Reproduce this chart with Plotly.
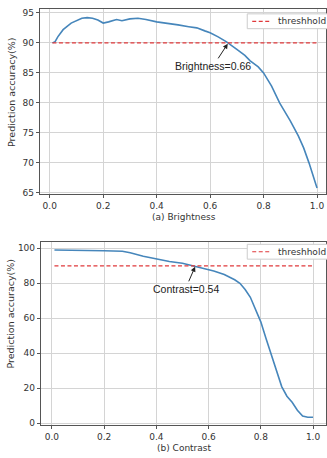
import plotly.graph_objects as go

# ---- data ----
bright_x = [0.01, 0.02, 0.03, 0.05, 0.08, 0.10, 0.12, 0.14, 0.16, 0.18, 0.20, 0.22, 0.25, 0.27,
            0.30, 0.33, 0.36, 0.40, 0.44, 0.48, 0.52, 0.55, 0.58, 0.60, 0.63, 0.66, 0.70, 0.73,
            0.75, 0.78, 0.80, 0.83, 0.86, 0.88, 0.90, 0.93, 0.95, 0.97, 1.00]
bright_y = [90.0, 90.2, 91.0, 92.2, 93.3, 93.7, 94.1, 94.2, 94.1, 93.8, 93.3, 93.5, 93.9, 93.7,
            94.0, 94.1, 93.9, 93.5, 93.3, 93.0, 92.7, 92.5, 92.0, 91.7, 91.0, 90.2, 88.9, 87.9,
            87.0, 86.0, 85.0, 82.8, 80.0, 78.5, 77.0, 74.5, 72.5, 70.0, 65.8]

contrast_x = [0.01, 0.10, 0.20, 0.27, 0.30, 0.35, 0.40, 0.45, 0.50, 0.54, 0.58, 0.62, 0.66,
              0.68, 0.70, 0.72, 0.74, 0.76, 0.78, 0.80, 0.82, 0.84, 0.86, 0.88, 0.90, 0.92,
              0.94, 0.96, 0.98, 1.00]
contrast_y = [99.0, 99.0, 98.6, 98.3, 97.5, 95.5, 94.0, 92.5, 91.5, 90.0, 88.5, 87.0, 85.0,
              83.5, 82.0, 80.0, 76.5, 72.0, 65.5, 58.0, 48.5, 39.0, 29.5, 21.0, 15.5, 12.0,
              7.5, 4.2, 3.5, 3.5]

threshold = 90
thr_x = [0.01, 1.00]
legend_label = "threshhold"
x_ticks = [0.0, 0.2, 0.4, 0.6, 0.8, 1.0]
x_tick_text = ["0.0", "0.2", "0.4", "0.6", "0.8", "1.0"]
top_y_ticks = [65, 70, 75, 80, 85, 90, 95]
bot_y_ticks = [0, 20, 40, 60, 80, 100]

W, H = 327, 458
BLUE = "#4686bb"
RED = "#e0393b"
FONT = "DejaVu Sans"
TXT = "#333"

fig = go.Figure()
fig.add_trace(go.Scatter(x=bright_x, y=bright_y, mode="lines", line=dict(color=BLUE, width=1.6),
                         showlegend=False, xaxis="x", yaxis="y"))
fig.add_trace(go.Scatter(x=thr_x, y=[threshold] * 2, mode="lines", name=legend_label,
                         line=dict(color=RED, width=1.2, dash="4px,2.5px"),
                         showlegend=False, xaxis="x", yaxis="y"))
fig.add_trace(go.Scatter(x=contrast_x, y=contrast_y, mode="lines", line=dict(color=BLUE, width=1.6),
                         showlegend=False, xaxis="x2", yaxis="y2"))
fig.add_trace(go.Scatter(x=thr_x, y=[threshold] * 2, mode="lines", name=legend_label,
                         line=dict(color=RED, width=1.2, dash="4px,2.5px"),
                         showlegend=False, xaxis="x2", yaxis="y2"))

axis_common = dict(showline=True, mirror=True, linecolor="#555", linewidth=1,
                   showgrid=True, gridcolor="#d4d4d4", gridwidth=1, zeroline=False,
                   ticks="outside", ticklen=3, tickcolor="#555",
                   tickfont=dict(family=FONT, size=9, color=TXT))

def py(p):
    return 1 - p / H

def px(p):
    return p / W

shapes = []
annotations = []
# legend boxes (matplotlib-style, upper right)
for top, bot in [(13, 28), (246, 261)]:
    mid = (top + bot) / 2
    shapes.append(dict(type="rect", xref="paper", yref="paper", x0=px(248), x1=px(335),
                       y0=py(bot), y1=py(top), line=dict(color="#cccccc", width=1),
                       fillcolor="white", layer="above"))
    shapes.append(dict(type="line", xref="paper", yref="paper", x0=px(253), x1=px(271),
                       y0=py(mid), y1=py(mid), line=dict(color=RED, width=1.2, dash="4px,2.5px"),
                       layer="above"))
    annotations.append(dict(x=px(277), y=py(mid), xref="paper", yref="paper", text=legend_label,
                            xanchor="left", yanchor="middle", showarrow=False,
                            font=dict(family=FONT, size=9, color=TXT)))

annotations += [
    dict(x=0.668, y=90, xref="x", yref="y", text="Brightness=0.66", showarrow=True,
         ax=-15, ay=23, arrowhead=2, arrowsize=1, arrowwidth=1, arrowcolor="#222",
         standoff=1, font=dict(family="Liberation Sans", size=10.5, color="#222")),
    dict(x=0.55, y=90, xref="x2", yref="y2", text="Contrast=0.54", showarrow=True,
         ax=-10, ay=23, arrowhead=2, arrowsize=1, arrowwidth=1, arrowcolor="#222",
         standoff=1, font=dict(family="Liberation Sans", size=10.5, color="#222")),
    dict(x=px(185), y=py(218), xref="paper", yref="paper", text="(a) Brightness",
         xanchor="center", yanchor="middle",
         showarrow=False, font=dict(family=FONT, size=9, color=TXT)),
    dict(x=px(185), y=py(452), xref="paper", yref="paper", text="(b) Contrast",
         xanchor="center", yanchor="middle",
         showarrow=False, font=dict(family=FONT, size=9, color=TXT)),
    dict(x=px(12), y=py(92), xref="paper", yref="paper", text="Prediction accuracy(%)",
         xanchor="center", yanchor="middle",
         textangle=-90, showarrow=False, font=dict(family=FONT, size=9.5, color=TXT)),
    dict(x=px(11), y=py(316), xref="paper", yref="paper", text="Prediction accuracy(%)",
         xanchor="center", yanchor="middle",
         textangle=-90, showarrow=False, font=dict(family=FONT, size=9.5, color=TXT)),
]

fig.update_layout(
    width=W, height=H, margin=dict(l=0, r=0, t=0, b=0),
    paper_bgcolor="white", plot_bgcolor="white", showlegend=False,
    xaxis=dict(domain=[px(40), 1.0], range=[-0.037, 1.0336], anchor="y",
               tickvals=x_ticks, ticktext=x_tick_text, **axis_common),
    yaxis=dict(domain=[py(195.5), py(8)], range=[64.75, 95.66], anchor="x",
               tickvals=top_y_ticks, **axis_common),
    xaxis2=dict(domain=[px(41), 1.0], range=[-0.042, 1.0496], anchor="y2",
                tickvals=x_ticks, ticktext=x_tick_text, **axis_common),
    yaxis2=dict(domain=[py(429), py(243.3)], range=[-1.13, 103.8], anchor="x2",
                tickvals=bot_y_ticks, **axis_common),
    shapes=shapes,
    annotations=annotations,
)

fig.write_html("out.html", config={"displayModeBar": False},
               post_script="document.body.style.margin='0';document.body.style.overflow='hidden';")
